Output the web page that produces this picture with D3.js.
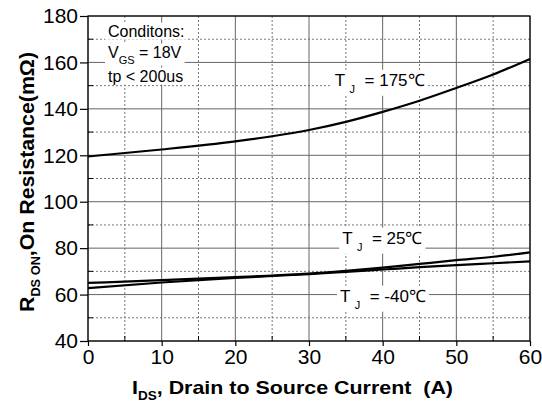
<!DOCTYPE html>
<html>
<head>
<meta charset="utf-8">
<script src="https://cdn.jsdelivr.net/npm/d3@7"></script>
<style>
body { margin: 0; background: #fff; }
svg { font-family: "Liberation Sans", Arial, sans-serif; }
</style>
</head>
<body>
<div id="chart"></div>
<script>
//Dados
var current = [0, 10, 20, 25, 30, 35, 40, 45, 50, 55, 60];
var tj175 = [119.5, 122.5, 126, 128.2, 130.9, 134.4, 138.7, 143.5, 149, 154.8, 161.5];
var tj25 = [65, 66.2, 67.5, 68.2, 69, 70.2, 71.6, 73.2, 74.8, 76.3, 78.2];
var tjm40 = [62.8, 65.2, 67.2, 68, 68.8, 69.8, 70.8, 71.8, 72.7, 73.5, 74.3];
var xTicks = [0, 10, 20, 30, 40, 50, 60];
var xMinor = [5, 15, 25, 35, 45, 55];
var yTicks = [40, 60, 80, 100, 120, 140, 160, 180];
var yMinor = [50, 70, 90, 110, 130, 150, 170];
var curveLabels = [
	{ x: 33.5, y: 152.5, t: "175" },
	{ x: 34.5, y: 84.5, t: "25" },
	{ x: 34.2, y: 59.5, t: "-40" }
];

var margin = {top: 16, right: 12, bottom: 62, left: 88};
var W = 542, H = 403;
var width = W - margin.left - margin.right;
var height = H - margin.top - margin.bottom;

var svg = d3.select("#chart").append("svg")
	.attr("width", W)
	.attr("height", H);
var g = svg.append("g")
	.attr("transform", "translate(" + margin.left + "," + margin.top + ")");

//Escalas
var x = d3.scaleLinear().domain([0, 60]).range([0, width]);
var y = d3.scaleLinear().domain([40, 180]).range([height, 0]);

//Grade
g.selectAll(".gx-minor").data(xMinor).enter().append("line")
	.attr("x1", function(d) { return x(d); }).attr("x2", function(d) { return x(d); })
	.attr("y1", 0).attr("y2", height)
	.attr("stroke", "#777").attr("stroke-dasharray", "2,2").attr("stroke-width", 1);
g.selectAll(".gy-minor").data(yMinor).enter().append("line")
	.attr("y1", function(d) { return y(d); }).attr("y2", function(d) { return y(d); })
	.attr("x1", 0).attr("x2", width)
	.attr("stroke", "#777").attr("stroke-dasharray", "2,2").attr("stroke-width", 1);
g.selectAll(".gx").data(xTicks).enter().append("line")
	.attr("x1", function(d) { return x(d); }).attr("x2", function(d) { return x(d); })
	.attr("y1", 0).attr("y2", height)
	.attr("stroke", "#666").attr("stroke-width", 1);
g.selectAll(".gy").data(yTicks).enter().append("line")
	.attr("y1", function(d) { return y(d); }).attr("y2", function(d) { return y(d); })
	.attr("x1", 0).attr("x2", width)
	.attr("stroke", "#666").attr("stroke-width", 1);

//Ticks menores (para dentro)
g.selectAll(".tx-minor").data(xMinor).enter().append("line")
	.attr("x1", function(d) { return x(d); }).attr("x2", function(d) { return x(d); })
	.attr("y1", height).attr("y2", height - 5)
	.attr("stroke", "#000");
g.selectAll(".ty-minor").data(yMinor).enter().append("line")
	.attr("y1", function(d) { return y(d); }).attr("y2", function(d) { return y(d); })
	.attr("x1", 0).attr("x2", 5)
	.attr("stroke", "#000");

//Moldura
g.append("rect")
	.attr("width", width).attr("height", height)
	.attr("fill", "none").attr("stroke", "#000").attr("stroke-width", 1.2);

//Eixos
var ax = g.append("g")
	.attr("transform", "translate(0," + height + ")")
	.call(d3.axisBottom(x).tickValues(xTicks).tickSize(5).tickPadding(3).tickSizeOuter(0));
var ay = g.append("g")
	.call(d3.axisLeft(y).tickValues(yTicks).tickSize(8).tickPadding(2).tickSizeOuter(0));
[ax, ay].forEach(function(a) {
	a.select(".domain").remove();
	a.selectAll("line").attr("stroke", "#000").attr("stroke-width", 1.2);
	a.selectAll("text")
		.attr("fill", "#000")
		.style("font-size", "21px")
		.style("font-family", "\"Liberation Sans\", Arial, sans-serif");
});

//Curvas
var line = d3.line()
	.x(function(d) { return x(d[0]); })
	.y(function(d) { return y(d[1]); })
	.curve(d3.curveMonotoneX);
[tj175, tj25, tjm40].forEach(function(s) {
	g.append("path")
		.datum(current.map(function(c, i) { return [c, s[i]]; }))
		.attr("fill", "none")
		.attr("stroke", "#000")
		.attr("stroke-width", 2.2)
		.attr("d", line);
});

//Rótulos das curvas
curveLabels.forEach(function(c) {
	var t = g.append("text")
		.attr("x", x(c.x)).attr("y", y(c.y))
		.attr("dy", "0.35em")
		.style("font-size", "17px")
		.style("white-space", "pre")
		.attr("fill", "#000");
	t.append("tspan").text("T ");
	t.append("tspan").attr("dy", 7).style("font-size", "11px").text("J");
	t.append("tspan").attr("dy", -7).text("  = " + c.t + "\u2103");
	var b = t.node().getBBox();
	g.insert("rect", function() { return t.node(); })
		.attr("x", b.x - 3).attr("y", b.y - 1)
		.attr("width", b.width + 6).attr("height", b.height + 2)
		.attr("fill", "#fff");
});

//Condições
var cond = [
	{ y: 31, parts: [["Conditons:", 0]] },
	{ y: 52, parts: [["V", 0], ["GS", 1], [" = 18V", 0]] },
	{ y: 76, parts: [["tp < 200us", 0]] }
];
cond.forEach(function(c) {
	var t = svg.append("text")
		.attr("x", 108).attr("y", c.y)
		.attr("dy", "0.35em")
		.style("font-size", "16px")
		.attr("fill", "#000");
	var prevSub = 0;
	c.parts.forEach(function(p) {
		var ts = t.append("tspan").text(p[0]);
		if (p[1] !== prevSub) ts.attr("dy", p[1] ? 6 : -6);
		if (p[1]) ts.style("font-size", "11px");
		prevSub = p[1];
	});
	var b = t.node().getBBox();
	svg.insert("rect", function() { return t.node(); })
		.attr("x", b.x - 3).attr("y", b.y)
		.attr("width", b.width + 6).attr("height", b.height)
		.attr("fill", "#fff");
});

//Títulos dos eixos
var xt = svg.append("text")
	.attr("x", 132).attr("y", 394)
	.attr("textLength", 321)
	.attr("lengthAdjust", "spacingAndGlyphs")
	.style("white-space", "pre")
	.style("font-size", "19px").style("font-weight", "bold");
xt.append("tspan").text("I");
xt.append("tspan").attr("dy", 6).style("font-size", "12px").text("DS");
xt.append("tspan").attr("dy", -6).text(", Drain to Source Current  (A)");

var yt = svg.append("text")
	.attr("transform", "translate(34,312) rotate(-90)")
	.attr("textLength", 260)
	.attr("lengthAdjust", "spacingAndGlyphs")
	.style("font-size", "20px").style("font-weight", "bold");
yt.append("tspan").text("R");
yt.append("tspan").attr("dy", 6).style("font-size", "12px").text("DS ON");
yt.append("tspan").attr("dy", -6).text(",On Resistance(m\u03A9)");
</script>
</body>
</html>
